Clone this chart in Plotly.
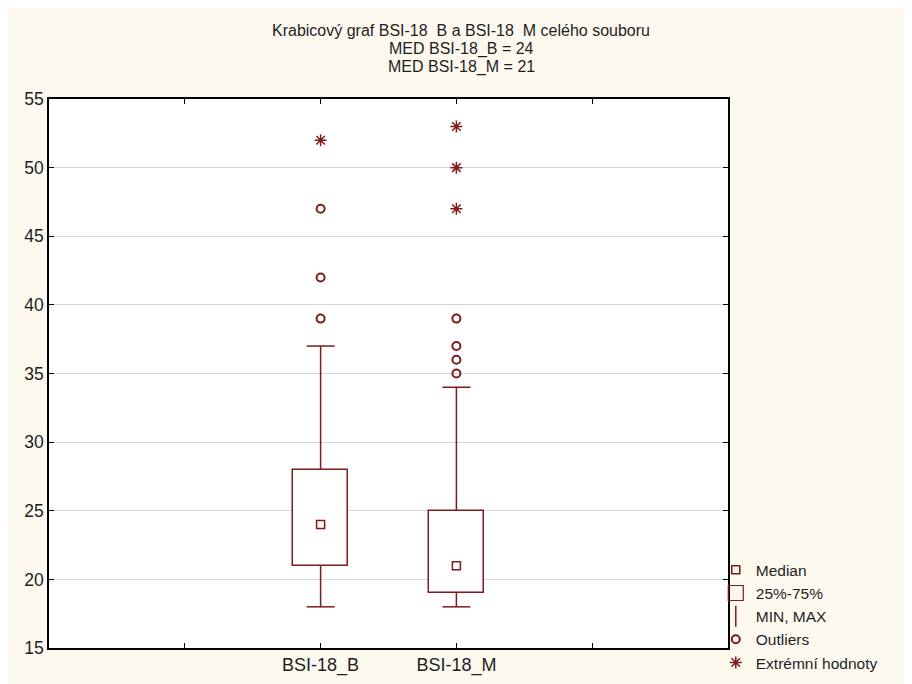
import plotly.graph_objects as go

categories = ["BSI-18_B", "BSI-18_M"]
cat_pos = [2, 3]
tick_positions = [1, 2, 3, 4]
q1 = [21, 19]
median = [24, 21]
q3 = [28, 25]
whisk_min = [18, 18]
whisk_max = [37, 34]
outliers = [[39, 42, 47], [35, 36, 37, 39]]
extremes = [[52], [47, 50, 53]]

title_lines = ["Krabicový graf BSI-18\u00a0 B a BSI-18\u00a0 M celého souboru",
               "MED BSI-18_B = 24", "MED BSI-18_M = 21"]
title_y = [1.1248, 1.0911, 1.0574]

RED = "#7d1c1c"
TXT = "#1e1e1e"
BOX_W = 0.405
CAP = 0.103
FONT = "Liberation Sans, Arial, sans-serif"

fig = go.Figure()

# boxes (25%-75%)
fig.add_trace(go.Bar(x=cat_pos, y=[b - a for a, b in zip(q1, q3)], base=q1,
                     width=BOX_W, marker=dict(color="white", line=dict(color=RED, width=1.5)),
                     name="25%-75%", showlegend=False, hoverinfo="skip"))

# whiskers
wx, wy = [], []
for p, a, b, lo, hi in zip(cat_pos, q1, q3, whisk_min, whisk_max):
    wx += [p, p, None, p - CAP, p + CAP, None, p, p, None, p - CAP, p + CAP, None]
    wy += [b, hi, None, hi, hi, None, a, lo, None, lo, lo, None]
fig.add_trace(go.Scatter(x=wx, y=wy, mode="lines", line=dict(color=RED, width=1.5),
                         showlegend=False, hoverinfo="skip"))

# median
fig.add_trace(go.Scatter(x=cat_pos, y=median, mode="markers", name="Median",
                         marker=dict(symbol="square-open", size=8, color=RED, line=dict(width=1.5))))

# legend-only box and whisker symbols
fig.add_trace(go.Scatter(x=[None], y=[None], mode="markers", name="25%-75%",
                         marker=dict(symbol="square-open", size=15, color=RED, line=dict(width=1.2))))
fig.add_trace(go.Scatter(x=[None], y=[None], mode="markers", name="MIN, MAX",
                         marker=dict(symbol="line-ns-open", size=15, color=RED, line=dict(width=1.5))))

# outliers
ox, oy = [], []
for p, vals in zip(cat_pos, outliers):
    ox += [p] * len(vals)
    oy += vals
fig.add_trace(go.Scatter(x=ox, y=oy, mode="markers", name="Outliers",
                         marker=dict(symbol="circle-open", size=8, color=RED, line=dict(width=2))))

# extremes
ex, ey = [], []
for p, vals in zip(cat_pos, extremes):
    ex += [p] * len(vals)
    ey += vals
fig.add_trace(go.Scatter(x=ex, y=ey, mode="markers", name="Extrémní hodnoty",
                         marker=dict(symbol="asterisk-open", size=10, color=RED, line=dict(width=1.5))))

annotations = [dict(text=t, x=0.6068, y=y, xref="paper", yref="paper", showarrow=False,
                    xanchor="center", yanchor="middle", font=dict(size=16, color=TXT, family=FONT))
               for t, y in zip(title_lines, title_y)]

fig.update_layout(
    width=912, height=684,
    paper_bgcolor="#fdf9ef", plot_bgcolor="white",
    margin=dict(l=41, r=192, t=91, b=44),
    font=dict(family=FONT, size=17, color=TXT),
    annotations=annotations,
    showlegend=True,
    legend=dict(x=0.982, xanchor="left", y=-0.057, yanchor="bottom",
                bgcolor="rgba(0,0,0,0)", font=dict(size=15.5, color=TXT), tracegroupgap=0,
                itemwidth=30),
    bargap=0,
)
fig.update_xaxes(range=[0, 5], tickvals=tick_positions,
                 ticktext=["" if t not in cat_pos else categories[cat_pos.index(t)] for t in tick_positions],
                 tickfont=dict(size=18),
                 showgrid=False, zeroline=False, showline=True, linecolor="black", linewidth=1.5,
                 mirror="ticks", ticks="inside", ticklen=5, tickcolor="black", fixedrange=True)
fig.update_yaxes(range=[15, 55], dtick=5, showgrid=True, gridcolor="#d6d6d6", gridwidth=1.2,
                 tickfont=dict(size=17.5),
                 zeroline=False, showline=True, linecolor="black", linewidth=1.5,
                 mirror="ticks", ticks="inside", ticklen=5, tickcolor="black", fixedrange=True)

fig.write_html("out.html")
